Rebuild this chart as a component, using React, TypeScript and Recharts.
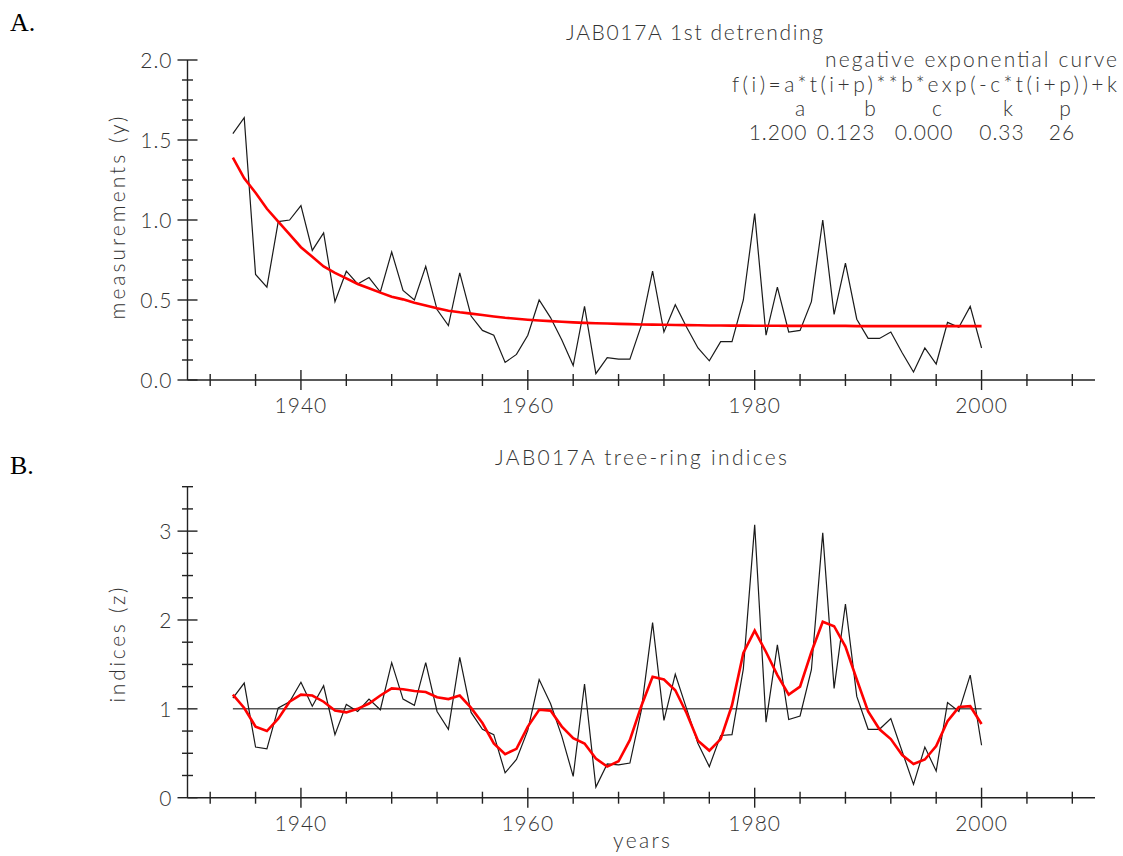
import React from 'react';
import { LineChart, Line, XAxis, YAxis, ReferenceLine } from 'recharts';

// ring series start in 1934, one value per year up to 2000
const FIRST_YEAR = 1934;

// A. raw ring-width measurements (y)
const ringWidths = [
  1.54, 1.64, 0.66, 0.58, 0.99, 1.0, 1.09, 0.81, 0.92, 0.49,
  0.68, 0.6, 0.64, 0.55, 0.8, 0.56, 0.5, 0.71, 0.44, 0.34,
  0.67, 0.4, 0.31, 0.28, 0.11, 0.16, 0.28, 0.5, 0.39, 0.25,
  0.09, 0.46, 0.04, 0.14, 0.13, 0.13, 0.34, 0.68, 0.3, 0.47,
  0.33, 0.2, 0.12, 0.24, 0.24, 0.5, 1.04, 0.28, 0.58, 0.3,
  0.31, 0.49, 1.0, 0.41, 0.73, 0.38, 0.26, 0.26, 0.3, 0.17,
  0.05, 0.2, 0.1, 0.36, 0.33, 0.46, 0.2,
];

// A. fitted negative exponential curve
const negExpFit = [
  1.39, 1.26, 1.17, 1.07, 0.99, 0.91, 0.83, 0.77, 0.71, 0.67,
  0.635, 0.6, 0.573, 0.546, 0.52, 0.504, 0.483, 0.465, 0.448, 0.433,
  0.423, 0.415, 0.406, 0.397, 0.389, 0.383, 0.377, 0.372, 0.368, 0.364,
  0.36, 0.357, 0.355, 0.353, 0.351, 0.349, 0.347, 0.346, 0.345, 0.344,
  0.343, 0.342, 0.341, 0.341, 0.34, 0.34, 0.339, 0.339, 0.339, 0.338,
  0.338, 0.338, 0.338, 0.338, 0.338, 0.337, 0.337, 0.337, 0.337, 0.337,
  0.337, 0.337, 0.337, 0.337, 0.337, 0.337, 0.337,
];

// B. tree-ring indices (z)
const treeRingIndices = [
  1.12, 1.29, 0.57, 0.55, 1.01, 1.08, 1.3, 1.03, 1.26, 0.71,
  1.05, 0.97, 1.11, 0.99, 1.52, 1.11, 1.04, 1.52, 0.97, 0.77,
  1.58, 0.96, 0.77, 0.71, 0.28, 0.43, 0.76, 1.33, 1.06, 0.69,
  0.24, 1.28, 0.12, 0.38, 0.37, 0.39, 0.98, 1.97, 0.87, 1.39,
  1.0, 0.61, 0.35, 0.7, 0.71, 1.45, 3.07, 0.85, 1.72, 0.88,
  0.92, 1.44, 2.98, 1.23, 2.18, 1.14, 0.77, 0.77, 0.89, 0.52,
  0.15, 0.57, 0.3, 1.07, 0.97, 1.38, 0.59,
];

// B. smoothed indices (red)
const smoothedIndices = [
  1.16, 1.01, 0.8, 0.75, 0.89, 1.08, 1.16, 1.15, 1.08, 0.98,
  0.96, 1.0, 1.06, 1.15, 1.23, 1.22, 1.2, 1.19, 1.13, 1.11,
  1.15, 1.01, 0.84, 0.61, 0.49, 0.55, 0.8, 0.99, 0.98, 0.8,
  0.67, 0.61, 0.44, 0.35, 0.41, 0.65, 1.03, 1.36, 1.33, 1.21,
  0.95, 0.64, 0.53, 0.66, 1.04, 1.63, 1.88, 1.64, 1.38, 1.16,
  1.25, 1.64, 1.98, 1.93, 1.7, 1.33, 0.97, 0.77, 0.66, 0.48,
  0.38, 0.43, 0.58, 0.86, 1.02, 1.03, 0.83,
];

const yearTicks = [
  1932, 1936, 1940, 1944, 1948, 1952, 1956, 1960, 1964, 1968,
  1972, 1976, 1980, 1984, 1988, 1992, 1996, 2000, 2004, 2008,
];
const labelledYears = [1940, 1960, 1980, 2000];

const widthTicks = [
  0, 0.125, 0.25, 0.375, 0.5, 0.625, 0.75, 0.875, 1,
  1.125, 1.25, 1.375, 1.5, 1.625, 1.75, 1.875, 2,
];
const indexTicks = [0, 0.25, 0.5, 0.75, 1, 1.25, 1.5, 1.75, 2, 2.25, 2.5, 2.75, 3, 3.25, 3.5];

const fitParamNames = ['a', 'b', 'c', 'k', 'p'];
const fitParamValues = ['1.200', '0.123', '0.000', '0.33', '26'];

const detrendData = ringWidths.map((w, i) => ({
  year: FIRST_YEAR + i,
  width: w,
  fit: negExpFit[i],
}));

const indexData = treeRingIndices.map((z, i) => ({
  year: FIRST_YEAR + i,
  index: z,
  smooth: smoothedIndices[i],
}));

const AXIS = '#222';
const font = {
  fontFamily: "Lato, 'DejaVu Sans', sans-serif",
  fontWeight: 300,
  fill: '#333',
};
const tickFont = { ...font, fontSize: 21, letterSpacing: 1 };

const XTick = (props: any) => {
  const { x, y, payload } = props;
  const major = labelledYears.includes(payload.value);
  const len = major ? 10 : 6;
  return (
    <g>
      <line x1={x} x2={x} y1={y - len} y2={y + len} stroke={AXIS} strokeWidth={1.4} />
      {major && (
        <text x={x} y={y + 33} textAnchor="middle" {...tickFont}>
          {payload.value}
        </text>
      )}
    </g>
  );
};

// y ticks cross the axis; majors every `step`, labelled with `digits`
const makeYTick = (step: number, digits: number) => (props: any) => {
  const { x, y, payload } = props;
  const v = payload.value as number;
  const major = Math.abs(v / step - Math.round(v / step)) < 1e-6;
  const len = major ? 10 : 5.5;
  return (
    <g>
      <line x1={x - len} x2={x + len} y1={y} y2={y} stroke={AXIS} strokeWidth={1.4} />
      {major && (
        <text x={x - 15} y={y + 8} textAnchor="end" {...tickFont}>
          {v.toFixed(digits)}
        </text>
      )}
    </g>
  );
};

const WidthTick = makeYTick(0.5, 1);
const IndexTick = makeYTick(1, 0);

export default function App() {
  return (
    <div style={{ position: 'absolute', left: 0, top: 0, width: 1123, height: 856, background: '#fff' }}>
      <div style={{ position: 'absolute', left: 0, top: 0 }}>
        <LineChart width={1123} height={420} data={detrendData} margin={{ top: 60, right: 28, bottom: 0, left: 0 }}>
          <XAxis
            dataKey="year"
            type="number"
            domain={[1930, 2010]}
            ticks={yearTicks}
            interval={0}
            height={40}
            tickSize={0}
            tickMargin={0}
            tick={XTick}
            axisLine={{ stroke: AXIS, strokeWidth: 1.4 }}
          />
          <YAxis
            type="number"
            domain={[0, 2]}
            ticks={widthTicks}
            interval={0}
            width={187.5}
            tickSize={0}
            tickMargin={0}
            tick={WidthTick}
            axisLine={{ stroke: AXIS, strokeWidth: 1.4 }}
          />
          <Line type="linear" dataKey="width" stroke="#1a1a1a" strokeWidth={1.2} dot={false} isAnimationActive={false} />
          <Line type="linear" dataKey="fit" stroke="#ff0000" strokeWidth={2.6} dot={false} isAnimationActive={false} />
        </LineChart>
      </div>

      <div style={{ position: 'absolute', left: 0, top: 430 }}>
        <LineChart width={1123} height={426} data={indexData} margin={{ top: 56.7, right: 28, bottom: 0, left: 0 }}>
          <XAxis
            dataKey="year"
            type="number"
            domain={[1930, 2010]}
            ticks={yearTicks}
            interval={0}
            height={58.3}
            tickSize={0}
            tickMargin={0}
            tick={XTick}
            axisLine={{ stroke: AXIS, strokeWidth: 1.4 }}
          />
          <YAxis
            type="number"
            domain={[0, 3.5]}
            ticks={indexTicks}
            interval={0}
            width={187.5}
            tickSize={0}
            tickMargin={0}
            tick={IndexTick}
            axisLine={{ stroke: AXIS, strokeWidth: 1.4 }}
          />
          <ReferenceLine
            segment={[{ x: FIRST_YEAR, y: 1 }, { x: 2000, y: 1 }]}
            stroke="#555"
            strokeWidth={1.5}
          />
          <Line type="linear" dataKey="index" stroke="#1a1a1a" strokeWidth={1.2} dot={false} isAnimationActive={false} />
          <Line type="linear" dataKey="smooth" stroke="#ff0000" strokeWidth={2.6} dot={false} isAnimationActive={false} />
        </LineChart>
      </div>

      {/* titles, panel letters, axis captions, fit parameters */}
      <svg width={1123} height={856} style={{ position: 'absolute', left: 0, top: 0, pointerEvents: 'none' }}>
        <text x={10} y={31} fontFamily="'Liberation Serif', serif" fontSize={26} fill="#000">A.</text>
        <text x={10} y={474} fontFamily="'Liberation Serif', serif" fontSize={26} fill="#000">B.</text>

        <text x={566} y={40} textLength={257} lengthAdjust="spacing" fontSize={21} {...font}>
          JAB017A 1st detrending
        </text>
        <text x={825} y={67} textLength={292} lengthAdjust="spacing" fontSize={21} {...font}>
          negative exponential curve
        </text>
        <text x={732} y={92} textLength={385} lengthAdjust="spacing" fontSize={21} {...font}>
          f(i)=a*t(i+p)**b*exp(-c*t(i+p))+k
        </text>
        {fitParamNames.map((n, i) => (
          <text key={n} x={[800, 870, 937, 1008, 1065][i]} y={116} textAnchor="middle" fontSize={21} {...font}>
            {n}
          </text>
        ))}
        {fitParamValues.map((v, i) => (
          <text key={v} x={[778, 846, 924, 1002, 1062][i]} y={140} textAnchor="middle" fontSize={21} letterSpacing={1} {...font}>
            {v}
          </text>
        ))}
        <text
          x={125}
          y={218}
          transform="rotate(-90 125 218)"
          textAnchor="middle"
          textLength={203}
          lengthAdjust="spacing"
          fontSize={21}
          {...font}
        >
          measurements (y)
        </text>

        <text x={495} y={465} textLength={292} lengthAdjust="spacing" fontSize={21} {...font}>
          JAB017A tree-ring indices
        </text>
        <text
          x={125}
          y={645}
          transform="rotate(-90 125 645)"
          textAnchor="middle"
          textLength={115}
          lengthAdjust="spacing"
          fontSize={21}
          {...font}
        >
          indices (z)
        </text>
        <text x={613} y={848} textLength={57} lengthAdjust="spacing" fontSize={21} {...font}>
          years
        </text>
      </svg>
    </div>
  );
}
